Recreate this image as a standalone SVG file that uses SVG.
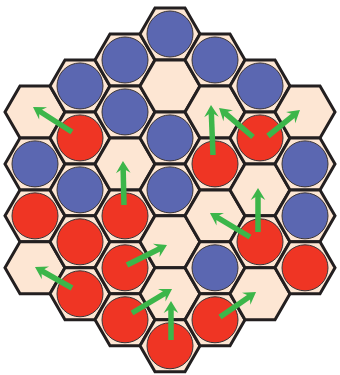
<svg xmlns="http://www.w3.org/2000/svg" xmlns:xlink="http://www.w3.org/1999/xlink" width="340" height="375" viewBox="0 0 340 375">
<style>
.hex{fill:#fde6d3;stroke:#231f20;stroke-width:3;stroke-linejoin:miter}
.b{fill:#5b67b1;stroke:#3a3436;stroke-width:1}
.r{fill:#ef3524;stroke:#3a3436;stroke-width:1}
.arr{fill:none;stroke:#3cb64a;stroke-width:5.5;stroke-linecap:butt;marker-end:url(#ah)}
</style>
<defs>
<polygon id="hx" points="30,0 15,25.98 -15,25.98 -30,0 -15,-25.98 15,-25.98"/>
<marker id="ah" markerUnits="userSpaceOnUse" viewBox="-13 -8 14 16" markerWidth="14" markerHeight="16" refX="-6" refY="0" orient="auto">
<path d="M0,0 L-12,-7.3 L-7.5,0 L-12,7.3 Z" fill="#3cb64a"/>
</marker>
</defs>
<rect width="340" height="375" fill="#ffffff"/>
<g id="cells">
<g id="c-35-112"><use href="#hx" class="hex" x="35" y="111.94"/></g>
<g id="c-35-164"><use href="#hx" class="hex" x="35" y="163.9"/><circle class="b" cx="35" cy="163.9" r="23"/></g>
<g id="c-35-216"><use href="#hx" class="hex" x="35" y="215.86"/><circle class="r" cx="35" cy="215.86" r="23"/></g>
<g id="c-35-268"><use href="#hx" class="hex" x="35" y="267.82"/></g>

<g id="c-80-86"><use href="#hx" class="hex" x="80" y="85.96"/><circle class="b" cx="80" cy="85.96" r="23"/></g>
<g id="c-80-138"><use href="#hx" class="hex" x="80" y="137.92"/><circle class="r" cx="80" cy="137.92" r="23"/></g>
<g id="c-80-190"><use href="#hx" class="hex" x="80" y="189.88"/><circle class="b" cx="80" cy="189.88" r="23"/></g>
<g id="c-80-242"><use href="#hx" class="hex" x="80" y="241.84"/><circle class="r" cx="80" cy="241.84" r="23"/></g>
<g id="c-80-294"><use href="#hx" class="hex" x="80" y="293.8"/><circle class="r" cx="80" cy="293.8" r="23"/></g>

<g id="c-125-60"><use href="#hx" class="hex" x="125" y="59.98"/><circle class="b" cx="125" cy="59.98" r="23"/></g>
<g id="c-125-112"><use href="#hx" class="hex" x="125" y="111.94"/><circle class="b" cx="125" cy="111.94" r="23"/></g>
<g id="c-125-164"><use href="#hx" class="hex" x="125" y="163.9"/></g>
<g id="c-125-216"><use href="#hx" class="hex" x="125" y="215.86"/><circle class="r" cx="125" cy="215.86" r="23"/></g>
<g id="c-125-268"><use href="#hx" class="hex" x="125" y="267.82"/><circle class="r" cx="125" cy="267.82" r="23"/></g>
<g id="c-125-320"><use href="#hx" class="hex" x="125" y="319.78"/><circle class="r" cx="125" cy="319.78" r="23"/></g>

<g id="c-170-34"><use href="#hx" class="hex" x="170" y="34"/><circle class="b" cx="170" cy="34" r="23"/></g>
<g id="c-170-86"><use href="#hx" class="hex" x="170" y="85.96"/></g>
<g id="c-170-138"><use href="#hx" class="hex" x="170" y="137.92"/><circle class="b" cx="170" cy="137.92" r="23"/></g>
<g id="c-170-190"><use href="#hx" class="hex" x="170" y="189.88"/><circle class="b" cx="170" cy="189.88" r="23"/></g>
<g id="c-170-242"><use href="#hx" class="hex" x="170" y="241.84"/></g>
<g id="c-170-294"><use href="#hx" class="hex" x="170" y="293.8"/></g>
<g id="c-170-346"><use href="#hx" class="hex" x="170" y="345.76"/><circle class="r" cx="170" cy="345.76" r="23"/></g>

<g id="c-215-60"><use href="#hx" class="hex" x="215" y="59.98"/><circle class="b" cx="215" cy="59.98" r="23"/></g>
<g id="c-215-112"><use href="#hx" class="hex" x="215" y="111.94"/></g>
<g id="c-215-164"><use href="#hx" class="hex" x="215" y="163.9"/><circle class="r" cx="215" cy="163.9" r="23"/></g>
<g id="c-215-216"><use href="#hx" class="hex" x="215" y="215.86"/></g>
<g id="c-215-268"><use href="#hx" class="hex" x="215" y="267.82"/><circle class="b" cx="215" cy="267.82" r="23"/></g>
<g id="c-215-320"><use href="#hx" class="hex" x="215" y="319.78"/><circle class="r" cx="215" cy="319.78" r="23"/></g>

<g id="c-260-86"><use href="#hx" class="hex" x="260" y="85.96"/><circle class="b" cx="260" cy="85.96" r="23"/></g>
<g id="c-260-138"><use href="#hx" class="hex" x="260" y="137.92"/><circle class="r" cx="260" cy="137.92" r="23"/></g>
<g id="c-260-190"><use href="#hx" class="hex" x="260" y="189.88"/></g>
<g id="c-260-242"><use href="#hx" class="hex" x="260" y="241.84"/><circle class="r" cx="260" cy="241.84" r="23"/></g>
<g id="c-260-294"><use href="#hx" class="hex" x="260" y="293.8"/></g>

<g id="c-305-112"><use href="#hx" class="hex" x="305" y="111.94"/></g>
<g id="c-305-164"><use href="#hx" class="hex" x="305" y="163.9"/><circle class="b" cx="305" cy="163.9" r="23"/></g>
<g id="c-305-216"><use href="#hx" class="hex" x="305" y="215.86"/><circle class="b" cx="305" cy="215.86" r="23"/></g>
<g id="c-305-268"><use href="#hx" class="hex" x="305" y="267.82"/><circle class="r" cx="305" cy="267.82" r="23"/></g>
</g>
<g id="connectors">
<line class="arr" x1="72" y1="132" x2="38.05" y2="110.24"/>
<line class="arr" x1="124" y1="205" x2="123.1" y2="167"/>
<line class="arr" x1="213" y1="155" x2="211.24" y2="111"/>
<line class="arr" x1="253" y1="137" x2="223.6" y2="111.9"/>
<line class="arr" x1="268" y1="136" x2="295.3" y2="113.8"/>
<line class="arr" x1="250" y1="237" x2="215.1" y2="216.1"/>
<line class="arr" x1="258" y1="232" x2="258" y2="194"/>
<line class="arr" x1="127" y1="265" x2="161.6" y2="247.7"/>
<line class="arr" x1="132" y1="313" x2="166.9" y2="292.1"/>
<line class="arr" x1="171" y1="340" x2="171" y2="307"/>
<line class="arr" x1="72" y1="288" x2="40.2" y2="270"/>
<line class="arr" x1="220" y1="317" x2="251.1" y2="295.4"/>
</g>
</svg>
